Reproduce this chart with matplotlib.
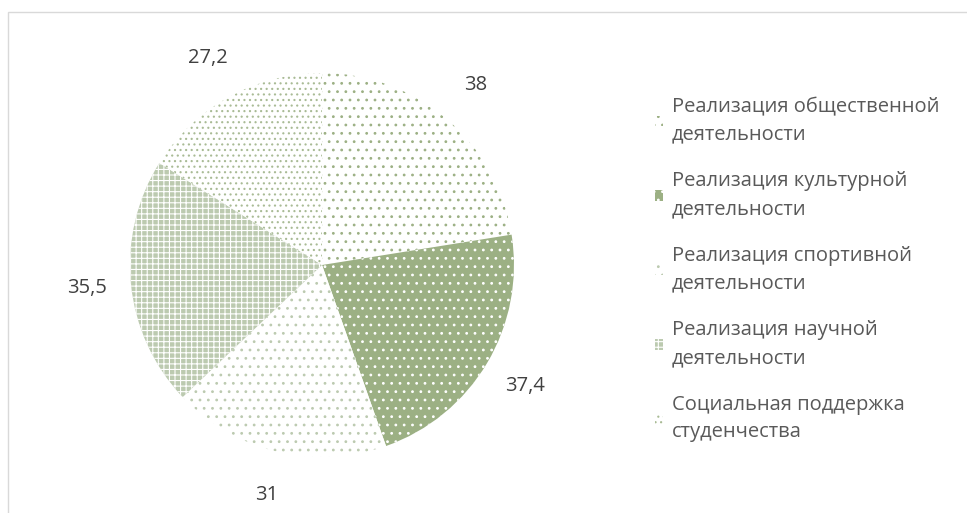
import matplotlib
matplotlib.use("Agg")
from matplotlib import pyplot as plt
from matplotlib.patches import Rectangle

# data
categories = ["Реализация общественной\nдеятельности",
              "Реализация культурной\nдеятельности",
              "Реализация спортивной\nдеятельности",
              "Реализация научной\nдеятельности",
              "Социальная поддержка\nстуденчества"]
values = [38, 37.4, 31, 35.5, 27.2]
value_labels = ["38", "37,4", "31", "35,5", "27,2"]

green = "#9cb084"
plt.rcParams['font.family'] = ['Open Sans', 'DejaVu Sans']
plt.rcParams['hatch.linewidth'] = 0.8

W, H = 967, 513
fig = plt.figure(figsize=(W / 100, H / 100), dpi=100)

# pie centre at (322, 265) px, radius ~192 px
cx, cy, r = 322, 265, 192
ax = fig.add_axes([(cx - r) / W, (H - cy - r) / H, 2 * r / W, 2 * r / H])

wedges, texts = ax.pie(values, labels=value_labels, startangle=90, counterclock=False,
                       labeldistance=1.23, radius=1,
                       textprops=dict(fontsize=14.5, color='#404040', ha='center', va='center'))
ax.set_xlim(-1, 1)
ax.set_ylim(-1, 1)
ax.set_aspect('equal')
ax.axis('off')

styles = [
    dict(facecolor='white', edgecolor=green, hatch='..'),
    dict(facecolor=green, edgecolor='white', hatch='..'),
    dict(facecolor='white', edgecolor='#bccab0', hatch='..'),
    dict(facecolor='#bccab0', edgecolor='white', hatch='+++'),
    dict(facecolor='white', edgecolor='#a9bb95', hatch='...'),
]
for w, st in zip(wedges, styles):
    w.set_facecolor(st['facecolor'])
    w.set_edgecolor(st['edgecolor'])
    w.set_hatch(st['hatch'])
    w.set_linewidth(0)

leg = fig.legend(wedges, categories, loc='upper left',
                 bbox_to_anchor=(655 / W, 1 - 97 / H), frameon=False,
                 fontsize=14.5, labelcolor='#595959', handlelength=0.42,
                 handleheight=0.42, handletextpad=0.4, labelspacing=1.34,
                 borderpad=0, borderaxespad=0)
for t in leg.get_texts():
    t.set_linespacing(1.5)

# light chart border (top and left visible)
fig.patches.append(Rectangle((8 / W, -0.05), 1.1, 1 - 12 / H + 0.05, fill=False,
                             edgecolor='#d9d9d9', linewidth=1,
                             transform=fig.transFigure, figure=fig))

fig.savefig('out.png', dpi=100)
